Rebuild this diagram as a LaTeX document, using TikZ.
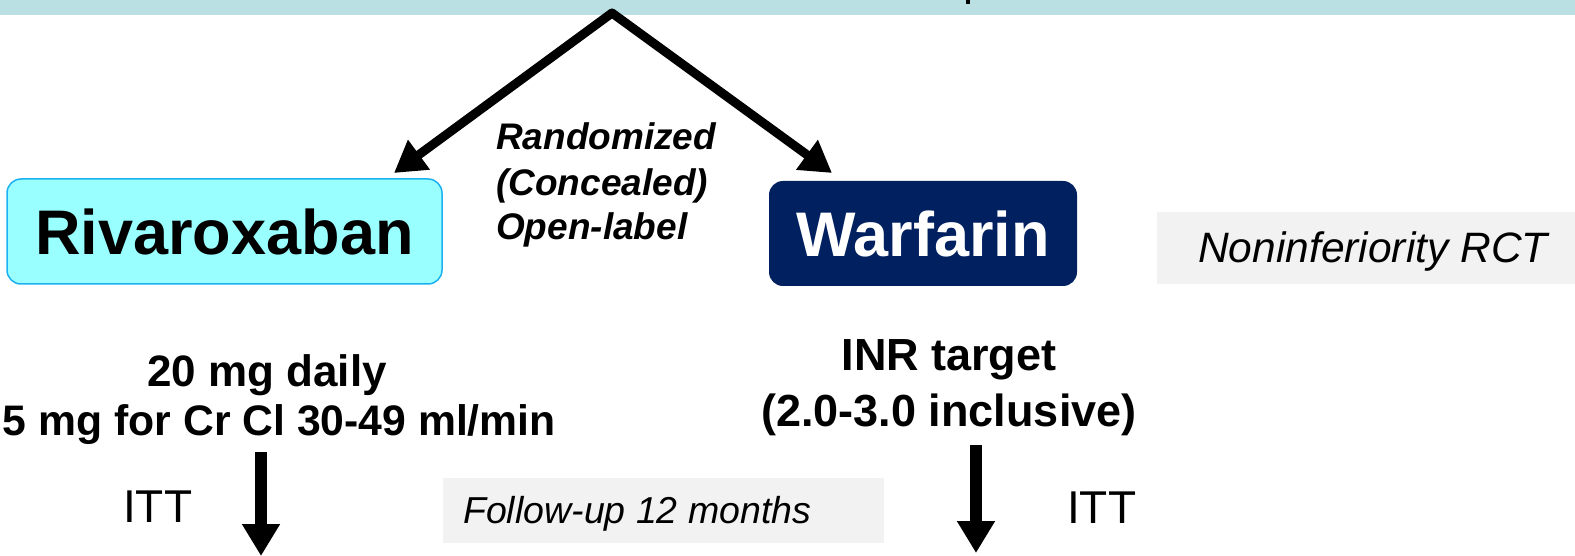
\documentclass[tikz,border=0pt]{standalone}
\usepackage{fontspec}
\setmainfont{Liberation Sans}
\usetikzlibrary{arrows.meta}
\definecolor{barteal}{HTML}{BBE0E3}
\definecolor{rivafill}{HTML}{99FFFF}
\definecolor{rivaborder}{HTML}{1CB0F0}
\definecolor{warfnavy}{HTML}{002060}
\definecolor{panelgray}{HTML}{F2F2F2}
\tikzset{
  armbox/.style={rectangle, rounded corners=14pt, inner sep=0pt, font=\fontsize{63}{75}\selectfont\bfseries},
  graypanel/.style={rectangle, fill=panelgray, inner sep=0pt},
  italictext/.style={inner sep=0pt, font=\fontsize{#1}{#1}\selectfont\itshape},
  boldline/.style={inner sep=0pt, font=\fontsize{#1}{#1}\selectfont\bfseries},
  randline/.style={inner sep=0pt, anchor=base west, font=\fontsize{37}{37}\selectfont\bfseries\itshape},
  itttext/.style={inner sep=0pt, font=\fontsize{46}{46}\selectfont},
  splitarrow/.style={line width=9pt, line join=round, {Triangle[length=31pt,width=35pt]}-{Triangle[length=31pt,width=35pt]}},
  downarrow/.style={line width=12pt, -{Triangle[length=32pt,width=36pt]}}
}
\begin{document}
\begin{tikzpicture}[x=1pt,y=-1pt]
\useasboundingbox (0,0) rectangle (1575,556);
% top bar
\fill[barteal] (0,0) rectangle (1575,15);
\fill[black] (966,0) rectangle (970,4);
% arms
\node[armbox, draw=rivaborder, line width=1.5pt, fill=rivafill, minimum width=435pt, minimum height=105pt] (riva) at (224.5,231.5) {Rivaroxaban};
\node[armbox, fill=warfnavy, text=white, minimum width=308pt, minimum height=105pt] (warf) at (923,233.5) {Warfarin};
% split arrows
\coordinate (apex) at (612,13);
\coordinate (tipL) at (394,173);
\coordinate (tipR) at (832,173);
\draw[splitarrow] (tipL) -- (apex) -- (tipR);
% randomization label
\node[randline] (randA) at (496,150) {Randomized};
\node[randline] (randB) at (496,195.5) {(Concealed)};
\node[randline] (randC) at (496,240) {Open-label};
% noninferiority panel
\node[graypanel, minimum width=418pt, minimum height=72pt] (nonpanel) at (1366,248) {};
\node[italictext=42.5, anchor=base] (nontext) at (1373,263) {Noninferiority RCT};
% dosing
\node[boldline=44, anchor=base] (rivadoseA) at (267,386) {20 mg daily};
\node[boldline=42.7, anchor=base east] (rivadoseB) at (556,435) {5 mg for Cr Cl 30-49 ml/min};
\node[boldline=45, anchor=base] (warfdoseA) at (949,370) {INR target};
\node[boldline=45, anchor=base] (warfdoseB) at (949,426) {(2.0-3.0 inclusive)};
% follow-up panel
\node[graypanel, minimum width=441pt, minimum height=65pt] (fupanel) at (663.5,510.5) {};
\node[italictext=37.5, anchor=base west] (futext) at (463,523) {Follow-up 12 months};
% ITT arrows
\coordinate (rivastart) at (261,452);
\coordinate (rivaend) at (261,556);
\coordinate (warfstart) at (976,445);
\coordinate (warfend) at (976,553);
\draw[downarrow] (rivastart) -- (rivaend);
\draw[downarrow] (warfstart) -- (warfend);
\node[itttext, anchor=base west] (ittL) at (123,522) {ITT};
\node[itttext, anchor=base west] (ittR) at (1067,523) {ITT};
\end{tikzpicture}
\end{document}
